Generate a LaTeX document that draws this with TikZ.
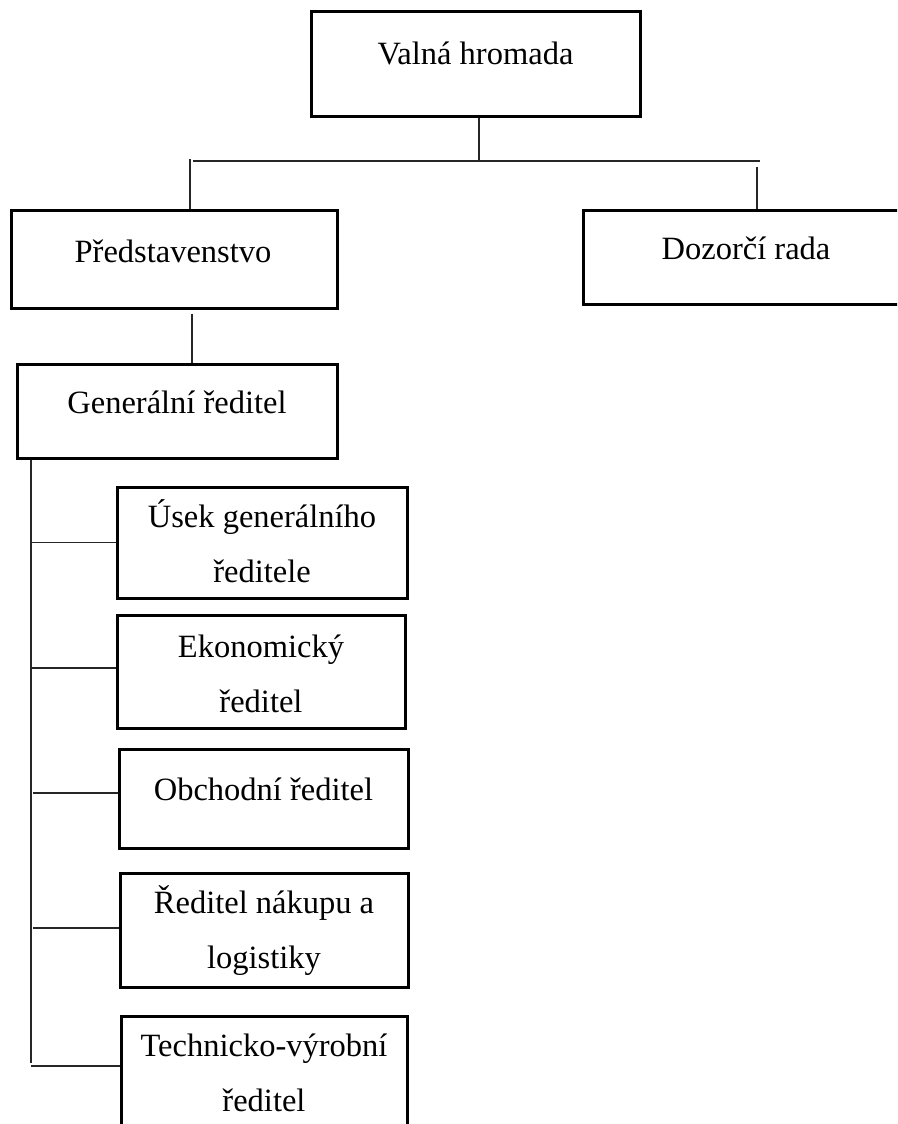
\documentclass[tikz,border=0pt]{standalone}
\usepackage{fontspec}
\setmainfont{Liberation Serif}
\begin{document}
\begin{tikzpicture}[x=1pt,y=-1pt,
  box/.style={draw, line width=3pt, rectangle, inner sep=0pt},
  conn/.style={draw=black!85, line width=1.3pt},
  lbl/.style={anchor=base, font=\fontsize{32.5}{55}\selectfont, inner sep=0pt}]
\useasboundingbox (0,0) rectangle (897,1124);
\clip (0,0) rectangle (897,1124);
% boxes
\node[box, minimum width=329pt, minimum height=104pt] (vh) at (475.5,64) {};
\node[box, minimum width=326pt, minimum height=98pt] (pr) at (174,259) {};
\node[box, minimum width=326pt, minimum height=94pt] (dr) at (746,257) {};
\node[box, minimum width=320pt, minimum height=94pt] (gr) at (177,411) {};
\node[box, minimum width=290pt, minimum height=111pt] (us) at (262,542.5) {};
\node[box, minimum width=288pt, minimum height=113pt] (ek) at (261,671.5) {};
\node[box, minimum width=289pt, minimum height=99pt] (ob) at (263.5,798.5) {};
\node[box, minimum width=288pt, minimum height=114pt] (rn) at (264,930) {};
\node[box, minimum width=286pt, minimum height=124pt] (te) at (264,1078) {};
% texts
\node[lbl] (tvh) at (475.5,65) {Valná hromada};
\node[lbl] (tpr) at (173,262) {Představenstvo};
\node[lbl] (tdr) at (746,259) {Dozorčí rada};
\node[lbl] (tgr) at (177,413) {Generální ředitel};
\node[lbl] (tus1) at (262,527) {Úsek generálního};
\node[lbl] (tus2) at (262,582) {ředitele};
\node[lbl] (tek1) at (261,657) {Ekonomický};
\node[lbl] (tek2) at (261,712) {ředitel};
\node[lbl] (tob) at (263.5,800) {Obchodní ředitel};
\node[lbl] (trn1) at (264,913) {Ředitel nákupu a};
\node[lbl] (trn2) at (264,968) {logistiky};
\node[lbl] (tte1) at (264,1056) {Technicko-výrobní};
\node[lbl] (tte2) at (264,1111) {ředitel};
% connectors
\coordinate (hl) at (193,161);
\coordinate (hr) at (760,161);
\coordinate (lt) at (190,159);
\coordinate (rt) at (757,167);
\coordinate (trunkend) at (31,1063);
\draw[conn] (hl) -- (hr);
\draw[conn] ([xshift=3.5pt]vh.south) -- ([xshift=3.5pt]vh.south |- hl);
\draw[conn] (lt) -- (lt |- pr.north);
\draw[conn] (rt) -- (rt |- dr.north);
\draw[conn] ([xshift=18pt,yshift=-4pt]pr.south) -- ([xshift=15pt]gr.north);
\draw[conn] (gr.south west -| trunkend) -- (trunkend);
\draw[conn] ([xshift=1pt]us.west -| trunkend) -- (us.west);
\draw[conn] ([yshift=3.5pt]ek.west -| trunkend) -- ([yshift=3.5pt]ek.west);
\draw[conn] ([xshift=2pt,yshift=5.5pt]ob.west -| trunkend) -- ([yshift=5.5pt]ob.west);
\draw[conn] ([xshift=2pt,yshift=2pt]rn.west -| trunkend) -- ([yshift=2pt]rn.west);
\draw[conn] ([yshift=12pt]te.west -| trunkend) -- ([yshift=12pt]te.west);
\end{tikzpicture}
\end{document}
